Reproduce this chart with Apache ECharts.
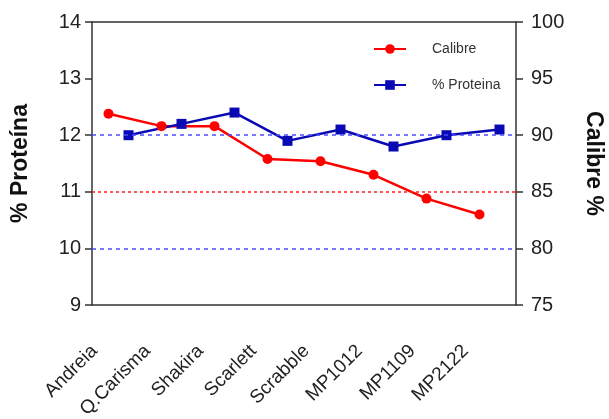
<!DOCTYPE html>
<html>
<head>
    <meta charset="utf-8">
    <title>Calibre y % Proteína</title>
    <script src="https://cdn.jsdelivr.net/npm/echarts@6.0.0/dist/echarts.min.js"></script>
    <style>
        body { margin: 0; background: #fff; }
        #chart { width: 609px; height: 419px; }
    </style>
</head>
<body>
    <div id="chart"></div>
    <script>
        // datos
        var variedades = ['Andreia', 'Q.Carisma', 'Shakira', 'Scarlett', 'Scrabble', 'MP1012', 'MP1109', 'MP2122'];
        var calibre = [91.9, 90.8, 90.8, 87.9, 87.7, 86.5, 84.4, 83.0];
        var proteina = [12.0, 12.2, 12.4, 11.9, 12.1, 11.8, 12.0, 12.1];
        var lineasProteina = [12, 10];
        var lineasCalibre = [85];

        var font = 'Liberation Sans, Arial, sans-serif';
        var axisColor = '#333';

        var chart = echarts.init(document.getElementById('chart'));

        // grid 0 = ejes visibles, grid 1 = calibre (desplazado a la izq.), grid 2 = proteina (a la der.)
        var option = {
            animation: false,
            textStyle: { fontFamily: font },
            legend: {
                orient: 'vertical',
                left: 368,
                top: 37,
                itemGap: 22,
                itemWidth: 32,
                itemHeight: 12,
                textStyle: { fontSize: 14, color: '#333', padding: [0, 0, 0, 21] },
                data: ['Calibre', '% Proteina']
            },
            grid: [
                { left: 92, right: 93, top: 22, bottom: 114, outerBoundsMode: 'none' },
                { left: 82, right: 103, top: 22, bottom: 114, outerBoundsMode: 'none' },
                { left: 102, right: 83, top: 22, bottom: 114, outerBoundsMode: 'none' }
            ],
            xAxis: [
                {
                    type: 'category', gridIndex: 0, data: variedades, boundaryGap: true,
                    axisLine: { lineStyle: { color: axisColor, width: 1.5 } },
                    axisTick: { alignWithLabel: true, length: 7, lineStyle: { color: axisColor, width: 1.5 } },
                    axisLabel: { rotate: 45, fontSize: 19, color: '#222', margin: 19, padding: [0, 34, 0, 0], fontFamily: font }
                },
                {
                    type: 'category', gridIndex: 0, position: 'top', data: variedades,
                    axisLine: { lineStyle: { color: axisColor, width: 1.5 } },
                    axisTick: { show: false }, axisLabel: { show: false }
                },
                { type: 'category', gridIndex: 1, data: variedades, show: false },
                { type: 'category', gridIndex: 2, data: variedades, show: false }
            ],
            yAxis: [
                {
                    type: 'value', gridIndex: 0, min: 9, max: 14, interval: 1,
                    name: '% Proteína', nameLocation: 'middle', nameGap: 60,
                    nameTextStyle: { fontSize: 23, fontWeight: 'bold', color: '#111', fontFamily: font },
                    axisLine: { show: true, lineStyle: { color: axisColor, width: 1.5 } },
                    axisTick: { show: true, length: 7, lineStyle: { color: axisColor, width: 1.5 } },
                    axisLabel: { fontSize: 20, color: '#222', margin: 11, fontFamily: font },
                    splitLine: { show: false }
                },
                {
                    type: 'value', gridIndex: 0, position: 'right', min: 75, max: 100, interval: 5,
                    name: 'Calibre %', nameLocation: 'middle', nameGap: 66, nameRotate: -90,
                    nameTextStyle: { fontSize: 23, fontWeight: 'bold', color: '#111', fontFamily: font },
                    axisLine: { show: true, lineStyle: { color: axisColor, width: 1.5 } },
                    axisTick: { show: true, length: 7, lineStyle: { color: axisColor, width: 1.5 } },
                    axisLabel: { fontSize: 20, color: '#222', margin: 15, fontFamily: font },
                    splitLine: { show: false }
                },
                { type: 'value', gridIndex: 1, min: 75, max: 100, show: false },
                { type: 'value', gridIndex: 2, min: 9, max: 14, show: false }
            ],
            series: [
                {
                    name: 'refProteina', type: 'line', xAxisIndex: 0, yAxisIndex: 0, data: [],
                    silent: true,
                    markLine: {
                        symbol: 'none', silent: true, label: { show: false },
                        lineStyle: { color: '#4b4bff', type: [4, 4], width: 1.5 },
                        data: lineasProteina.map(function (v) { return { yAxis: v }; })
                    }
                },
                {
                    name: 'refCalibre', type: 'line', xAxisIndex: 0, yAxisIndex: 1, data: [],
                    silent: true,
                    markLine: {
                        symbol: 'none', silent: true, label: { show: false },
                        lineStyle: { color: '#ff2020', type: [3, 3], width: 1.5 },
                        data: lineasCalibre.map(function (v) { return { yAxis: v }; })
                    }
                },
                {
                    name: 'Calibre', type: 'line', xAxisIndex: 2, yAxisIndex: 2, data: calibre,
                    symbol: 'circle', symbolSize: 10,
                    itemStyle: { color: '#ff0000' },
                    lineStyle: { color: '#ff0000', width: 2.5 }
                },
                {
                    name: '% Proteina', type: 'line', xAxisIndex: 3, yAxisIndex: 3, data: proteina,
                    symbol: 'rect', symbolSize: 10,
                    itemStyle: { color: '#0a0ab4' },
                    lineStyle: { color: '#0a0ab4', width: 2.5 }
                }
            ]
        };

        chart.setOption(option);
    </script>
</body>
</html>
